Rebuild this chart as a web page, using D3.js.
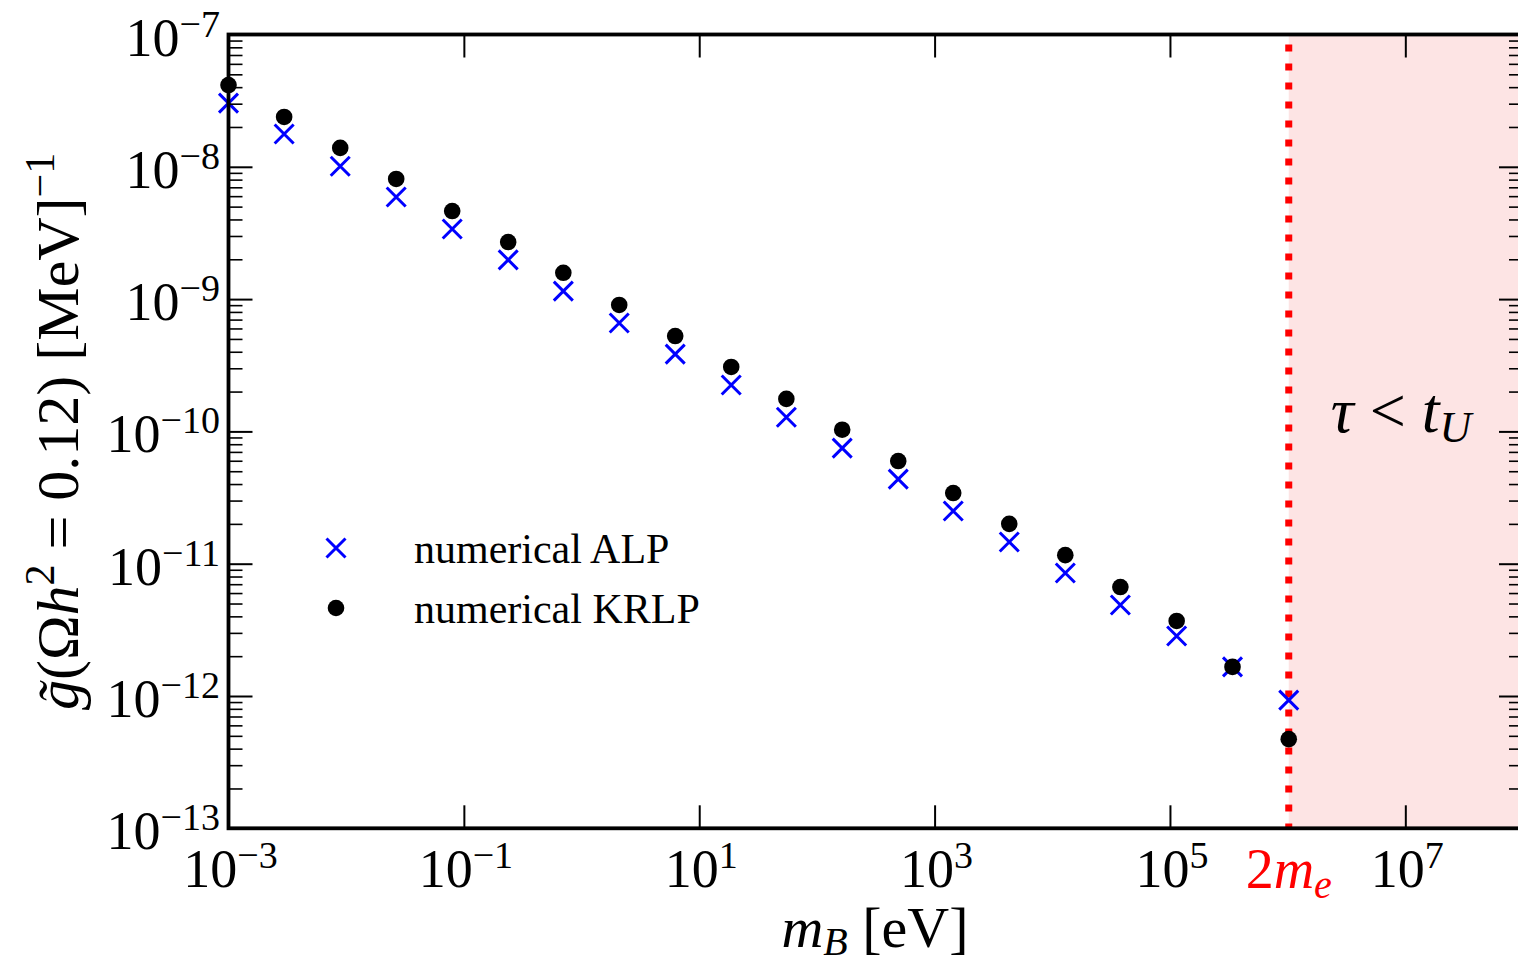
<!DOCTYPE html>
<html>
<head>
<meta charset="utf-8">
<script src="https://cdn.jsdelivr.net/npm/d3@7"></script>
<style>
  html, body { margin: 0; padding: 0; background: #fff; }
  svg { display: block; }
  text { font-family: "Liberation Serif", "DejaVu Serif", serif; fill: #000; }
</style>
</head>
<body>
<svg id="chart" width="1518" height="966"></svg>
<script>
// Boson mass m_B in eV
const massEV = [1e-3, 2.97e-3, 8.9e-3, 2.66e-2, 7.96e-2, 0.238, 0.70, 2.09, 6.25, 18.7,
                55.0, 164, 491, 1440, 4310, 1.29e4, 3.79e4, 1.14e5, 3.40e5, 1.022e6];
// Coupling giving Omega h^2 = 0.12, in MeV^-1
const alpCoupling = [3.03e-8, 1.77e-8, 1.01e-8, 5.91e-9, 3.39e-9, 1.98e-9, 1.15e-9, 6.59e-10,
                     3.84e-10, 2.24e-10, 1.28e-10, 7.48e-11, 4.36e-11, 2.50e-11, 1.46e-11,
                     8.50e-12, 4.87e-12, 2.84e-12, 1.66e-12, 9.31e-13];
const krlpCoupling = [4.15e-8, 2.38e-8, 1.39e-8, 8.09e-9, 4.63e-9, 2.70e-9, 1.58e-9, 9.03e-10,
                      5.26e-10, 3.07e-10, 1.76e-10, 1.03e-10, 5.97e-11, 3.42e-11, 2.00e-11,
                      1.16e-11, 6.66e-12, 3.69e-12, 1.66e-12, 4.72e-13];
// Pair-production threshold 2 m_e in eV
const twoMe = 1.022e6;
// Axis tick exponents
const xTickExps = [-3, -1, 1, 3, 5, 7];
const yTickExps = [-13, -12, -11, -10, -9, -8, -7];
const seriesNames = ["numerical ALP", "numerical KRLP"];

const svg = d3.select("#chart");
const pLeft = 228.5, pRight = 1523, pTop = 34.5, pBottom = 828.3;

const x = d3.scaleLog().domain([1e-3, 1e8]).range([pLeft, pRight]);
const y = d3.scaleLog().domain([1e-13, 1e-7]).range([pBottom, pTop]);

const plot = svg.append("g");

// Region where the lifetime is shorter than the age of the Universe
plot.append("rect")
  .attr("x", x(twoMe)).attr("y", pTop)
  .attr("width", x(1e8) - x(twoMe)).attr("height", pBottom - pTop)
  .attr("fill", "#fde4e4");

// Threshold line
plot.append("line")
  .attr("x1", x(twoMe)).attr("x2", x(twoMe))
  .attr("y1", pTop + 10).attr("y2", pBottom)
  .attr("stroke", "#ff0000").attr("stroke-width", 7)
  .attr("stroke-dasharray", "7 12");

// Axes (ticks pointing inward)
const xMajor = xTickExps.map(e => Math.pow(10, e));
const yMajor = yTickExps.map(e => Math.pow(10, e));
const yMinor = [];
yTickExps.slice(0, -1).forEach(e => { for (let k = 2; k <= 9; k++) yMinor.push(k * Math.pow(10, e)); });

function styleAxis(g, w) {
  g.select(".domain").remove();
  g.selectAll(".tick line").attr("stroke", "#000").attr("stroke-width", w);
}

svg.append("g").attr("transform", `translate(0,${pBottom})`)
  .call(d3.axisBottom(x).tickValues(xMajor).tickSizeInner(-23).tickSizeOuter(0).tickFormat(""))
  .call(g => styleAxis(g, 2));
svg.append("g").attr("transform", `translate(0,${pTop})`)
  .call(d3.axisTop(x).tickValues(xMajor).tickSizeInner(-23).tickSizeOuter(0).tickFormat(""))
  .call(g => styleAxis(g, 2));
svg.append("g").attr("transform", `translate(${pLeft},0)`)
  .call(d3.axisLeft(y).tickValues(yMajor).tickSizeInner(-24).tickSizeOuter(0).tickFormat(""))
  .call(g => styleAxis(g, 2));
svg.append("g").attr("transform", `translate(${pLeft},0)`)
  .call(d3.axisLeft(y).tickValues(yMinor).tickSizeInner(-14).tickSizeOuter(0).tickFormat(""))
  .call(g => styleAxis(g, 1.6));
svg.append("g").attr("transform", `translate(${pRight},0)`)
  .call(d3.axisRight(y).tickValues(yMajor).tickSizeInner(-24).tickSizeOuter(0).tickFormat(""))
  .call(g => styleAxis(g, 2));
svg.append("g").attr("transform", `translate(${pRight},0)`)
  .call(d3.axisRight(y).tickValues(yMinor).tickSizeInner(-14).tickSizeOuter(0).tickFormat(""))
  .call(g => styleAxis(g, 1.6));

// Frame
svg.append("rect")
  .attr("x", pLeft).attr("y", pTop)
  .attr("width", pRight - pLeft).attr("height", pBottom - pTop)
  .attr("fill", "none").attr("stroke", "#000").attr("stroke-width", 3.8);

// Power-of-ten labels
function powerLabel(sel, exp) {
  sel.append("tspan").attr("font-size", 54).text("10");
  sel.append("tspan").attr("font-size", 38).attr("dy", -19)
    .text(exp < 0 ? "\u2212" + Math.abs(exp) : String(exp));
}
xTickExps.forEach(e => {
  const t = svg.append("text").attr("x", x(Math.pow(10, e)) + 2).attr("y", 887)
    .attr("text-anchor", "middle");
  powerLabel(t, e);
});
yTickExps.forEach(e => {
  const t = svg.append("text").attr("x", 220).attr("y", y(Math.pow(10, e)) + 21)
    .attr("text-anchor", "end");
  powerLabel(t, e);
});

// 2 m_e label
const me = svg.append("text").attr("x", x(twoMe)).attr("y", 888)
  .attr("text-anchor", "middle").style("fill", "#ff0000").attr("font-size", 56);
me.append("tspan").style("fill", "#ff0000").text("2");
me.append("tspan").style("fill", "#ff0000").attr("font-style", "italic").text("m");
me.append("tspan").style("fill", "#ff0000").attr("font-style", "italic")
  .attr("font-size", 40).attr("dy", 10).text("e");

// Axis titles
const xt = svg.append("text").attr("x", 875).attr("y", 947)
  .attr("text-anchor", "middle").attr("font-size", 58);
xt.append("tspan").attr("font-style", "italic").text("m");
xt.append("tspan").attr("font-style", "italic").attr("font-size", 40).attr("dy", 8).text("B");
xt.append("tspan").attr("dy", -8).text(" [eV]");

const yt = svg.append("text")
  .attr("transform", `translate(78,${(pTop + pBottom) / 2}) rotate(-90)`)
  .attr("text-anchor", "middle").attr("font-size", 60);
yt.append("tspan").attr("font-style", "italic").text("g\u0303");
yt.append("tspan").text("(\u03A9");
yt.append("tspan").attr("font-style", "italic").text("h");
yt.append("tspan").attr("font-size", 42).attr("dy", -24).text("2");
yt.append("tspan").attr("dy", 24).text(" = 0.12) [MeV]");
yt.append("tspan").attr("font-size", 42).attr("dy", -24).text("\u22121");

// Region label
const tau = svg.append("text").attr("x", 1401).attr("y", 432)
  .attr("text-anchor", "middle").attr("font-size", 64);
tau.append("tspan").attr("font-style", "italic").text("\u03C4");
tau.append("tspan").text(" < ");
tau.append("tspan").attr("font-style", "italic").text("t");
tau.append("tspan").attr("font-style", "italic").attr("font-size", 44).attr("dy", 10).text("U");

// Data markers
const pts = massEV.map((m, i) => ({ m, alp: alpCoupling[i], krlp: krlpCoupling[i] }));
const crossPath = s => `M${-s},${-s}L${s},${s}M${-s},${s}L${s},${-s}`;

plot.selectAll("path.alp").data(pts).join("path")
  .attr("class", "alp")
  .attr("transform", d => `translate(${x(d.m)},${y(d.alp)})`)
  .attr("d", crossPath(9.5))
  .attr("stroke", "#0000ff").attr("stroke-width", 3).attr("fill", "none");

plot.selectAll("circle.krlp").data(pts).join("circle")
  .attr("class", "krlp")
  .attr("cx", d => x(d.m)).attr("cy", d => y(d.krlp))
  .attr("r", 8.3).attr("fill", "#000");

// Legend
const legend = svg.append("g");
legend.append("path").attr("transform", "translate(336,548)").attr("d", crossPath(9.5))
  .attr("stroke", "#0000ff").attr("stroke-width", 3).attr("fill", "none");
legend.append("circle").attr("cx", 336).attr("cy", 608).attr("r", 8.3).attr("fill", "#000");
legend.selectAll("text").data(seriesNames).join("text")
  .attr("x", 414).attr("y", (d, i) => 563 + i * 60)
  .attr("font-size", 42).text(d => d);
</script>
</body>
</html>
